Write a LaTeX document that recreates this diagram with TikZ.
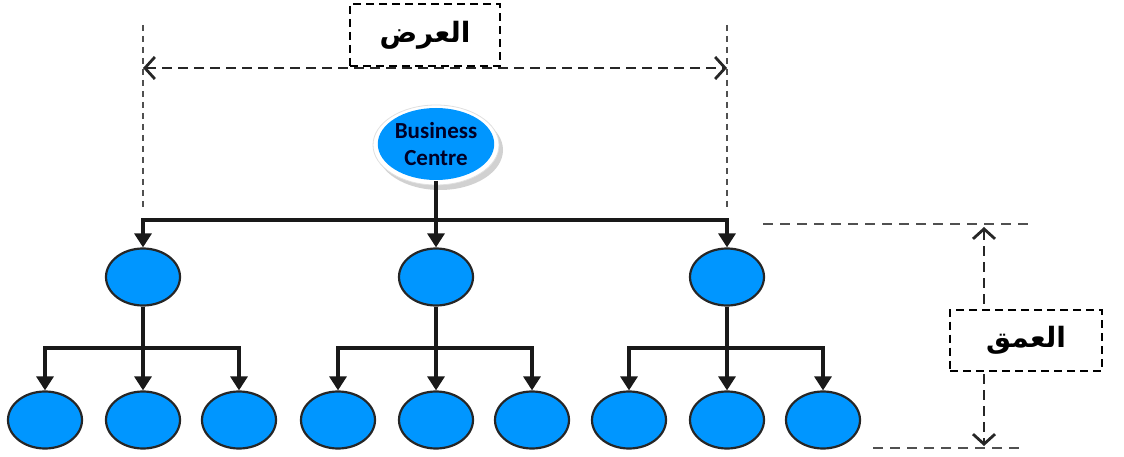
\documentclass[tikz,border=0pt]{standalone}
\usepackage{fontspec}
\setmainfont{Carlito}
\newfontfamily\arabicfont[Script=Arabic]{DejaVu Sans}
\TeXXeTstate=1
\usetikzlibrary{shapes.geometric,arrows.meta}
\definecolor{nodeblue}{RGB}{0,150,255}
\definecolor{guide}{RGB}{80,80,80}
\begin{document}
\begin{tikzpicture}[x=1pt,y=-1pt,
  leaf/.style={ellipse,draw=black!85,line width=2.2pt,fill=nodeblue,
    minimum width=74pt,minimum height=57pt,inner sep=0pt},
  link/.style={line width=3.2pt,black!90},
  linkarrow/.style={link,-{Triangle[length=14pt,width=17pt]}},
  guideline/.style={guide,line width=1.6pt,dash pattern=on 6pt off 5pt},
  depthguide/.style={guide,line width=2pt,dash pattern=on 10pt off 7pt},
  measure/.style={black!85,line width=2.8pt,dash pattern=on 10pt off 6pt},
  measurearrow/.style={measure,{Straight Barb[length=10pt,width=22pt,line width=2.8pt]}-{Straight Barb[length=10pt,width=22pt,line width=2.8pt]}},
  labelbox/.style={draw=black,line width=2pt,dash pattern=on 8pt off 5pt,fill=white,inner sep=0pt},
  artext/.style={font=\arabicfont\bfseries\fontsize{28}{32}\selectfont}]
\useasboundingbox (0,0) rectangle (1124,457);

% width guides and measure
\draw[guideline] (143,25) -- (143,208);
\draw[guideline] (727,25) -- (727,208);
\coordinate (wl) at (143,68);
\coordinate (wr) at (727,68);
\draw[measurearrow] (wl) -- (wr);
\node[labelbox,minimum width=150pt,minimum height=62pt,artext] (wlabel) at (425,35) {\beginR العرض\endR};

% root node with white halo and soft shadow
\fill[black!18] (440,150) ellipse (63pt and 40pt);
\fill[white] (436,145) ellipse (63pt and 40pt);
\draw[black!12,line width=0.8pt] (436,145) ellipse (63pt and 40pt);
\node[ellipse,fill=nodeblue,minimum width=116pt,minimum height=72pt,inner sep=0pt,
  align=center,font=\bfseries\fontsize{23}{27}\selectfont,text=black!85!blue] (bc) at (436,144)
  {Business\\Centre};

% second level
\node[leaf] (a) at (143,277) {};
\node[leaf] (b) at (436,277) {};
\node[leaf] (c) at (727,277) {};
\coordinate (j0) at (436,220);
\draw[link] (436,181) -- (j0);
\draw[linkarrow] (j0) -| (a.north);
\draw[linkarrow] (j0) -- (b.north);
\draw[linkarrow] (j0) -| (c.north);

% third level
\foreach \p/\x in {a/143,b/436,c/727}{
  \node[leaf] (\p1) at (\x-98,420) {};
  \node[leaf] (\p2) at (\x,420) {};
  \node[leaf] (\p3) at (\x+96,420) {};
  \coordinate (\p j) at (\x,348);
  \draw[link] (\p.south) -- (\p j);
  \draw[linkarrow] (\p j) -| (\p1.north);
  \draw[linkarrow] (\p j) -- (\p2.north);
  \draw[linkarrow] (\p j) -| (\p3.north);
}

% depth guides and measure
\draw[depthguide] (763,224) -- (1032,224);
\draw[depthguide] (873,448) -- (1022,448);
\coordinate (dt) at (984,227);
\coordinate (db) at (984,446);
\draw[measurearrow] (dt) -- (db);
\node[labelbox,minimum width=152pt,minimum height=61pt,artext] (dlabel) at (1026,340) {\beginR العمق\endR};
\end{tikzpicture}
\end{document}
